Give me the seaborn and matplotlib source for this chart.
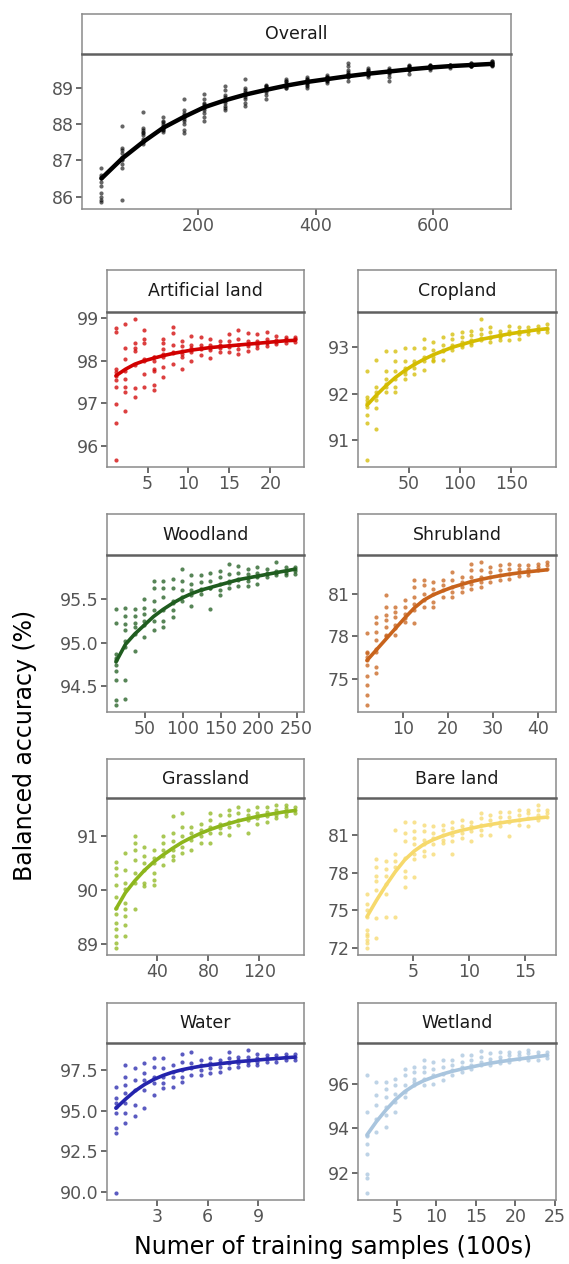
import matplotlib
matplotlib.use("Agg")
import matplotlib.pyplot as plt
import matplotlib.ticker as mticker
import pandas as pd
import seaborn as sns

# ---------------------------------------------------------------- data
overall_x = [35, 70, 105, 140, 175, 210, 245, 280, 315, 350,
             385, 420, 455, 490, 525, 560, 595, 630, 665, 700]
overall_acc = [
    [86.8, 86.6, 86.5, 86.4, 86.3, 86.1, 86.0, 85.9, 85.85, 86.55],
    [87.95, 87.35, 87.2, 87.1, 87.0, 86.9, 86.8, 85.9, 87.3, 87.05],
    [88.35, 87.9, 87.8, 87.75, 87.6, 87.5, 87.45, 87.85, 87.7, 87.55],
    [88.2, 88.1, 88.0, 87.95, 87.9, 87.85, 87.8, 88.05, 87.9, 87.85],
    [88.7, 88.4, 88.3, 88.2, 88.1, 88.0, 87.85, 87.75, 88.25, 88.15],
    [88.85, 88.7, 88.6, 88.5, 88.4, 88.3, 88.2, 88.1, 88.55, 88.45],
    [89.05, 88.95, 88.8, 88.7, 88.6, 88.5, 88.45, 88.4, 88.65, 88.75],
    [89.25, 89.0, 88.9, 88.8, 88.7, 88.6, 88.5, 88.85, 88.95, 88.75],
    [89.1, 89.05, 89.0, 88.95, 88.9, 88.8, 88.7, 89.0, 88.95, 89.05],
    [89.25, 89.2, 89.1, 89.05, 89.0, 89.15, 89.1, 89.05, 89.2, 89.0],
    [89.3, 89.25, 89.2, 89.15, 89.1, 89.05, 89.0, 89.25, 89.2, 89.15],
    [89.35, 89.3, 89.25, 89.2, 89.15, 89.3, 89.25, 89.2, 89.3, 89.25],
    [89.7, 89.6, 89.5, 89.4, 89.3, 89.2, 89.45, 89.35, 89.3, 89.4],
    [89.55, 89.5, 89.45, 89.4, 89.35, 89.3, 89.45, 89.4, 89.5, 89.35],
    [89.55, 89.5, 89.45, 89.4, 89.3, 89.2, 89.5, 89.45, 89.5, 89.45],
    [89.65, 89.6, 89.55, 89.5, 89.4, 89.55, 89.5, 89.6, 89.55, 89.5],
    [89.65, 89.6, 89.55, 89.6, 89.5, 89.6, 89.55, 89.6, 89.65, 89.55],
    [89.65, 89.6, 89.6, 89.55, 89.6, 89.65, 89.6, 89.65, 89.6, 89.6],
    [89.7, 89.65, 89.6, 89.65, 89.6, 89.65, 89.7, 89.6, 89.65, 89.6],
    [89.75, 89.7, 89.65, 89.6, 89.7, 89.65, 89.7, 89.75, 89.65, 89.7],
]
overall_fit = [86.5, 87.05, 87.5, 87.9, 88.2, 88.47, 88.66, 88.82, 88.95, 89.07,
               89.17, 89.25, 89.33, 89.4, 89.46, 89.52, 89.57, 89.61, 89.64, 89.67]

artificial_x = [1.15, 2.3, 3.45, 4.6, 5.75, 6.9, 8.05, 9.2, 10.35, 11.5,
                12.65, 13.8, 14.95, 16.1, 17.25, 18.4, 19.55, 20.7, 21.85, 23.0]
artificial_acc = [
    [98.78, 98.68, 97.81, 97.73, 97.65, 97.55, 97.38, 96.98, 96.54, 95.67],
    [98.86, 98.29, 98.04, 97.58, 97.38, 97.27, 96.81, 97.75],
    [98.98, 98.42, 98.31, 98.23, 97.35, 97.15, 97.9],
    [98.73, 98.5, 98.42, 98.0, 97.69, 97.38, 98.05],
    [98.08, 98.0, 97.81, 97.77, 97.42, 97.31, 98.1],
    [98.5, 98.42, 98.27, 98.15, 97.85, 97.62, 98.1],
    [98.79, 98.65, 98.38, 98.19, 97.92, 98.2],
    [98.46, 98.35, 98.23, 98.08, 97.81, 98.15],
    [98.58, 98.38, 98.31, 98.25, 98.0, 98.2],
    [98.55, 98.38, 98.27, 98.14, 98.3],
    [98.52, 98.38, 98.3, 98.06, 98.25],
    [98.46, 98.37, 98.3, 98.2, 98.35],
    [98.63, 98.46, 98.32, 98.21, 98.38],
    [98.73, 98.5, 98.37, 98.27, 98.15],
    [98.65, 98.46, 98.35, 98.23, 98.4],
    [98.62, 98.46, 98.38, 98.29, 98.42],
    [98.68, 98.52, 98.42, 98.35, 98.45],
    [98.58, 98.48, 98.4, 98.45],
    [98.56, 98.48, 98.42, 98.5],
    [98.56, 98.5, 98.45, 98.52],
]
artificial_fit = [97.65, 97.8, 97.92, 98.0, 98.06, 98.12, 98.17, 98.21, 98.25, 98.28,
                  98.31, 98.33, 98.35, 98.37, 98.39, 98.41, 98.43, 98.45, 98.47, 98.48]

cropland_x = [9.25, 18.5, 27.75, 37.0, 46.25, 55.5, 64.75, 74.0, 83.25, 92.5,
              101.75, 111.0, 120.25, 129.5, 138.75, 148.0, 157.25, 166.5, 175.75, 185.0]
cropland_acc = [
    [92.49, 91.93, 91.86, 91.72, 91.55, 91.37, 90.57, 91.8],
    [92.73, 92.14, 92.03, 91.86, 91.69, 91.23, 91.95],
    [92.91, 92.49, 92.31, 92.14, 92.03, 92.2],
    [92.91, 92.7, 92.49, 92.31, 92.14, 92.03],
    [92.98, 92.7, 92.56, 92.49, 92.42, 92.31],
    [92.98, 92.7, 92.56, 92.42, 92.65],
    [93.19, 92.98, 92.7, 92.52, 92.8],
    [93.12, 92.94, 92.8, 92.7, 92.73],
    [93.22, 93.05, 92.91, 92.73, 92.95],
    [93.29, 93.19, 93.05, 92.94, 93.0],
    [93.33, 93.22, 93.12, 93.01, 93.05],
    [93.36, 93.26, 93.15, 93.05, 93.1],
    [93.61, 93.4, 93.29, 93.15, 93.2],
    [93.43, 93.33, 93.22, 93.12, 93.2],
    [93.36, 93.29, 93.22, 93.15, 93.25],
    [93.47, 93.36, 93.29, 93.15, 93.3],
    [93.43, 93.36, 93.29, 93.19, 93.32],
    [93.43, 93.36, 93.29, 93.35],
    [93.47, 93.4, 93.33, 93.38],
    [93.5, 93.4, 93.33, 93.42],
]
cropland_fit = [91.75, 91.97, 92.17, 92.35, 92.5, 92.63, 92.74, 92.84, 92.92, 93.0,
                93.06, 93.12, 93.17, 93.21, 93.25, 93.29, 93.32, 93.35, 93.38, 93.4]

woodland_x = [12.4, 24.8, 37.2, 49.6, 62.0, 74.4, 86.8, 99.2, 111.6, 124.0,
              136.4, 148.8, 161.2, 173.6, 186.0, 198.4, 210.8, 223.2, 235.6, 248.0]
woodland_acc = [
    [95.39, 95.23, 94.87, 94.83, 94.8, 94.68, 94.57, 94.34, 94.29, 94.75],
    [95.4, 95.31, 95.21, 95.14, 95.02, 94.57, 94.36, 94.95],
    [95.39, 95.31, 95.23, 95.18, 95.1, 94.91],
    [95.5, 95.4, 95.33, 95.25, 95.06, 95.2],
    [95.71, 95.63, 95.48, 95.37, 95.25, 95.14],
    [95.71, 95.63, 95.52, 95.37, 95.25, 95.18],
    [95.73, 95.63, 95.48, 95.37, 95.29, 95.45],
    [95.84, 95.71, 95.6, 95.52, 95.48],
    [95.77, 95.67, 95.6, 95.42, 95.55],
    [95.77, 95.69, 95.61, 95.56, 95.6],
    [95.8, 95.71, 95.63, 95.39, 95.62],
    [95.82, 95.75, 95.67, 95.6, 95.54],
    [95.9, 95.79, 95.71, 95.63, 95.68],
    [95.88, 95.8, 95.73, 95.65, 95.72],
    [95.84, 95.79, 95.71, 95.65, 95.74],
    [95.86, 95.8, 95.75, 95.67, 95.76],
    [95.84, 95.8, 95.75, 95.78],
    [95.92, 95.82, 95.77, 95.8],
    [95.86, 95.8, 95.77, 95.82],
    [95.86, 95.82, 95.79, 95.84],
]
woodland_fit = [94.78, 94.98, 95.1, 95.2, 95.3, 95.38, 95.45, 95.51, 95.56, 95.6,
                95.63, 95.66, 95.69, 95.72, 95.74, 95.76, 95.78, 95.8, 95.82, 95.84]

shrubland_x = [2.1, 4.2, 6.3, 8.4, 10.5, 12.6, 14.7, 16.8, 18.9, 21.0,
               23.1, 25.2, 27.3, 29.4, 31.5, 33.6, 35.7, 37.8, 39.9, 42.0]
shrubland_acc = [
    [78.2, 76.91, 76.8, 76.56, 75.98, 75.2, 74.57, 73.87, 73.17, 76.3],
    [79.36, 78.9, 78.31, 77.73, 76.91, 75.86, 75.39, 77.1],
    [80.88, 80.07, 79.48, 79.13, 78.66, 78.08, 78.0],
    [80.07, 79.71, 79.36, 78.78, 78.08, 78.6],
    [80.53, 80.07, 79.6, 79.01, 79.3],
    [81.93, 81.47, 80.77, 80.3, 79.83, 78.9],
    [81.93, 81.58, 81.0, 80.53, 80.07],
    [81.82, 81.35, 81.0, 80.42, 80.07],
    [81.93, 81.58, 81.23, 80.77],
    [82.52, 81.93, 81.47, 81.12, 80.77],
    [82.17, 81.82, 81.47, 81.12],
    [83.1, 82.64, 82.17, 81.7, 81.35],
    [83.22, 82.64, 82.17, 81.82, 81.47],
    [82.87, 82.52, 82.17, 81.82],
    [82.99, 82.64, 82.29, 81.93],
    [83.1, 82.75, 82.4, 82.05],
    [82.99, 82.75, 82.52, 82.21],
    [82.99, 82.75, 82.52, 82.29],
    [83.1, 82.87, 82.64],
    [83.22, 82.99, 82.75],
]
shrubland_fit = [76.3, 77.05, 77.8, 78.55, 79.3, 80.0, 80.55, 80.92, 81.2, 81.45,
                 81.65, 81.85, 82.0, 82.14, 82.26, 82.37, 82.46, 82.54, 82.61, 82.68]

grassland_x = [7.4, 14.8, 22.2, 29.6, 37.0, 44.4, 51.8, 59.2, 66.6, 74.0,
               81.4, 88.8, 96.2, 103.6, 111.0, 118.4, 125.8, 133.2, 140.6, 148.0]
grassland_acc = [
    [90.51, 90.4, 90.28, 90.1, 89.88, 89.67, 89.55, 89.39, 89.27, 89.15, 89.02, 88.93],
    [90.68, 90.37, 90.13, 90.01, 89.76, 89.64, 89.52, 89.36, 89.15],
    [90.99, 90.87, 90.74, 90.56, 90.31, 90.13, 89.64],
    [90.8, 90.62, 90.5, 90.37, 90.13, 90.07],
    [90.74, 90.59, 90.5, 90.31, 90.19, 90.1],
    [90.99, 90.87, 90.74, 90.62, 90.47],
    [91.36, 91.05, 90.9, 90.74, 90.62, 90.56],
    [91.42, 91.17, 90.99, 90.8, 90.68],
    [91.17, 91.05, 90.93, 90.74],
    [91.23, 91.11, 90.99, 90.87],
    [91.42, 91.29, 91.17, 91.05, 90.87],
    [91.39, 91.23, 91.14, 91.05],
    [91.48, 91.39, 91.26, 91.17, 91.02],
    [91.54, 91.42, 91.29, 91.2],
    [91.48, 91.39, 91.29, 91.05],
    [91.54, 91.42, 91.33, 91.23],
    [91.54, 91.45, 91.36, 91.26],
    [91.57, 91.48, 91.39, 91.33],
    [91.57, 91.51, 91.42, 91.36],
    [91.54, 91.48, 91.42],
]
grassland_fit = [89.65, 89.95, 90.17, 90.36, 90.52, 90.65, 90.77, 90.88, 90.97, 91.05,
                 91.12, 91.18, 91.23, 91.28, 91.32, 91.36, 91.39, 91.42, 91.45, 91.47]

bare_x = [0.85, 1.7, 2.55, 3.4, 4.25, 5.1, 5.95, 6.8, 7.65, 8.5,
          9.35, 10.2, 11.05, 11.9, 12.75, 13.6, 14.45, 15.3, 16.15, 17.0]
bare_acc = [
    [76.33, 75.54, 75.02, 74.49, 73.44, 72.92, 72.39, 72.0, 72.6, 73.1],
    [79.08, 78.43, 77.77, 77.38, 76.59, 74.36, 72.78],
    [78.95, 78.3, 77.77, 77.12, 76.33, 74.49],
    [81.45, 79.48, 78.95, 78.43, 74.49],
    [82.1, 81.18, 80.53, 79.22, 78.17, 77.64, 76.85],
    [82.1, 81.31, 80.79, 80.27, 79.48, 79.08, 77.64],
    [81.84, 81.31, 80.66, 80.27, 79.74, 79.35],
    [81.71, 81.18, 80.79, 80.27, 79.48],
    [81.84, 81.45, 81.05, 80.66, 80.4],
    [82.1, 81.58, 81.05, 80.53, 79.48],
    [82.23, 81.71, 81.18, 80.79],
    [82.1, 81.71, 81.31, 80.53],
    [82.76, 82.36, 81.84, 81.45, 81.05],
    [82.63, 82.23, 81.84, 81.05],
    [82.89, 82.5, 82.1, 81.71],
    [82.89, 82.5, 82.1, 80.92],
    [83.02, 82.63, 82.23, 81.84],
    [83.02, 82.76, 82.36, 81.71],
    [83.41, 83.02, 82.63, 82.23],
    [83.02, 82.76, 82.5],
]
bare_fit = [74.5, 75.8, 77.0, 78.1, 79.05, 79.75, 80.28, 80.65, 80.95, 81.2,
            81.4, 81.56, 81.72, 81.86, 81.98, 82.1, 82.2, 82.3, 82.38, 82.45]

water_x = [0.56, 1.12, 1.68, 2.24, 2.8, 3.36, 3.92, 4.48, 5.04, 5.6,
           6.16, 6.72, 7.28, 7.84, 8.4, 8.96, 9.52, 10.08, 10.64, 11.2]
water_acc = [
    [96.48, 95.76, 95.25, 94.84, 93.92, 93.61, 89.93, 95.5],
    [97.81, 97.09, 96.58, 96.07, 95.46, 94.84, 94.23],
    [97.6, 96.89, 96.27, 95.35, 94.64],
    [97.91, 97.3, 96.89, 96.27, 95.15],
    [98.22, 97.7, 97.09, 96.68, 95.97],
    [98.22, 97.6, 97.09, 96.68, 96.38],
    [97.81, 97.4, 97.09, 96.48],
    [98.52, 98.01, 97.5, 97.09, 96.78],
    [98.62, 97.91, 97.6, 97.19],
    [98.11, 97.81, 97.5, 97.19],
    [98.22, 97.91, 97.6, 97.3],
    [98.11, 97.91, 97.7, 97.4],
    [98.62, 98.22, 97.91, 97.6],
    [98.32, 98.11, 97.91, 97.7],
    [98.73, 98.32, 98.01, 97.81],
    [98.52, 98.22, 98.01, 97.81],
    [98.42, 98.22, 98.01],
    [98.42, 98.22, 98.01],
    [98.52, 98.32, 98.11],
    [98.52, 98.32, 98.11],
]
water_fit = [95.15, 95.7, 96.2, 96.6, 96.92, 97.17, 97.37, 97.52, 97.64, 97.74,
             97.82, 97.89, 97.96, 98.02, 98.07, 98.12, 98.17, 98.21, 98.26, 98.3]

wetland_x = [1.2, 2.4, 3.6, 4.8, 6.0, 7.2, 8.4, 9.6, 10.8, 12.0,
             13.2, 14.4, 15.6, 16.8, 18.0, 19.2, 20.4, 21.6, 22.8, 24.0]
wetland_acc = [
    [96.38, 94.72, 93.66, 93.28, 92.83, 91.92, 91.77, 91.09, 93.7],
    [96.08, 95.47, 95.02, 94.42, 93.81],
    [96.08, 95.77, 95.4, 94.94, 94.57, 94.04],
    [96.23, 95.92, 95.55, 95.17, 94.72],
    [96.68, 96.38, 95.92, 95.62, 95.4],
    [96.75, 96.53, 96.23, 96.08, 95.92],
    [97.06, 96.75, 96.53, 96.23, 95.92],
    [96.98, 96.68, 96.38, 96.0],
    [97.06, 96.75, 96.45, 96.15],
    [97.06, 96.83, 96.6, 96.38],
    [97.28, 96.98, 96.75, 96.53],
    [97.28, 97.06, 96.83, 96.68],
    [97.46, 97.21, 96.98, 96.83],
    [97.36, 97.13, 96.98, 96.83],
    [97.43, 97.21, 97.06, 96.91],
    [97.43, 97.28, 97.13, 96.98],
    [97.43, 97.28, 97.13],
    [97.51, 97.36, 97.21, 97.06],
    [97.43, 97.28, 97.06],
    [97.43, 97.31, 97.16],
]
wetland_fit = [93.7, 94.3, 94.82, 95.28, 95.65, 95.93, 96.14, 96.3, 96.44, 96.56,
               96.66, 96.75, 96.84, 96.92, 96.99, 97.05, 97.11, 97.16, 97.22, 97.28]

# ---------------------------------------------------------------- style
sns.set_style("white")
plt.rcParams["font.family"] = ["DejaVu Sans"]

W, H = 569, 1264
fig = plt.figure(figsize=(W / 100, H / 100), dpi=100)

tick_size = 12.5
border = "#8a8a8a"


def px_rect(left, top, right, bottom):
    return [left / W, 1 - bottom / H, (right - left) / W, (bottom - top) / H]


def draw_panel(box, strip_top, title, xs, accs, fit, color, xticks, yticks,
               ydec=0, lw=2.6, s=9, alpha=0.75):
    left, top, right, bottom = box
    ax = fig.add_axes(px_rect(left, top, right, bottom))
    df = pd.DataFrame(
        [(x, v) for x, col in zip(xs, accs) for v in col], columns=["x", "acc"]
    )
    sns.scatterplot(data=df, x="x", y="acc", color=color, s=s, linewidth=0,
                    alpha=alpha, ax=ax, zorder=2)
    sns.lineplot(x=xs, y=fit, color=color, linewidth=lw, ax=ax, zorder=3)

    # ggplot-like 5% expansion
    xr = max(xs) - min(xs)
    ax.set_xlim(min(xs) - 0.05 * xr, max(xs) + 0.05 * xr)
    ymin, ymax = df["acc"].min(), df["acc"].max()
    yr = ymax - ymin
    ax.set_ylim(ymin - 0.05 * yr, ymax + 0.05 * yr)

    ax.set_xticks(xticks)
    ax.set_yticks(yticks)
    ax.yaxis.set_major_formatter(mticker.FormatStrFormatter(f"%.{ydec}f"))
    ax.tick_params(axis="both", which="major", bottom=True, left=True,
                   direction="out", length=4, width=1.1,
                   color="#444444", labelcolor="#555555",
                   labelsize=tick_size, pad=2)
    ax.set_xlabel("")
    ax.set_ylabel("")
    for sp in ax.spines.values():
        sp.set_color(border)
        sp.set_linewidth(1.1)

    # facet strip
    sax = fig.add_axes(px_rect(left, strip_top, right, top))
    sax.set_xticks([])
    sax.set_yticks([])
    sax.set_facecolor("white")
    for sp in sax.spines.values():
        sp.set_color(border)
        sp.set_linewidth(1.1)
    sax.spines["bottom"].set_color("#606060")
    sax.spines["bottom"].set_linewidth(1.8)
    sax.text(0.5, 0.5, title, ha="center", va="center", fontsize=tick_size,
             color="#1a1a1a", transform=sax.transAxes)
    return ax


LX = (107, 304)
RX = (358, 556)

draw_panel((82, 54, 511, 209), 14, "Overall", overall_x, overall_acc, overall_fit,
           "black", [200, 400, 600], [86, 87, 88, 89], lw=3.2, s=9, alpha=0.6)

draw_panel((LX[0], 312, LX[1], 467), 270, "Artificial land", artificial_x,
           artificial_acc, artificial_fit, "#d10000", [5, 10, 15, 20], [96, 97, 98, 99])
draw_panel((RX[0], 312, RX[1], 467), 270, "Cropland", cropland_x,
           cropland_acc, cropland_fit, "#d4bc00", [50, 100, 150], [91, 92, 93])

draw_panel((LX[0], 555, LX[1], 712), 514, "Woodland", woodland_x,
           woodland_acc, woodland_fit, "#1f5c1f", [50, 100, 150, 200, 250],
           [94.5, 95.0, 95.5], ydec=1)
draw_panel((RX[0], 555, RX[1], 712), 514, "Shrubland", shrubland_x,
           shrubland_acc, shrubland_fit, "#c8631c", [10, 20, 30, 40], [75, 78, 81])

draw_panel((LX[0], 798, LX[1], 955), 759, "Grassland", grassland_x,
           grassland_acc, grassland_fit, "#8db61c", [40, 80, 120], [89, 90, 91])
draw_panel((RX[0], 798, RX[1], 955), 759, "Bare land", bare_x,
           bare_acc, bare_fit, "#f6d96c", [5, 10, 15], [72, 75, 78, 81])

draw_panel((LX[0], 1043, LX[1], 1200), 1003, "Water", water_x,
           water_acc, water_fit, "#2424ad", [3, 6, 9], [90.0, 92.5, 95.0, 97.5], ydec=1)
draw_panel((RX[0], 1043, RX[1], 1200), 1003, "Wetland", wetland_x,
           wetland_acc, wetland_fit, "#a9c5de", [5, 10, 15, 20, 25], [92, 94, 96])

fig.text(25 / W, 1 - 745 / H, "Balanced accuracy (%)", rotation=90,
         ha="center", va="center", fontsize=17, color="black")
fig.text(333 / W, 1 - 1247 / H, "Numer of training samples (100s)",
         ha="center", va="center", fontsize=17, color="black")

fig.savefig("out.png", dpi=100)
